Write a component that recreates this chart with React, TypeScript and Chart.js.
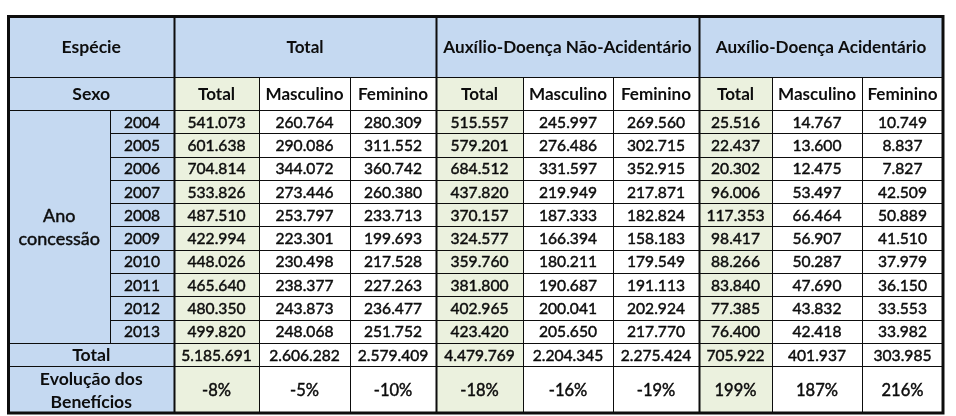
import { useEffect, useRef } from "react";
import { Chart, registerables } from "chart.js";

Chart.register(...registerables);

// ---------- data ----------
const SPECIES = ["Total", "Auxílio-Doença Não-Acidentário", "Auxílio-Doença Acidentário"];
const SEXES = ["Total", "Masculino", "Feminino"];
const YEARS = ["2004", "2005", "2006", "2007", "2008", "2009", "2010", "2011", "2012", "2013"];

const totalTotal = [541073, 601638, 704814, 533826, 487510, 422994, 448026, 465640, 480350, 499820];
const totalMasc = [260764, 290086, 344072, 273446, 253797, 223301, 230498, 238377, 243873, 248068];
const totalFem = [280309, 311552, 360742, 260380, 233713, 199693, 217528, 227263, 236477, 251752];
const naoAcTotal = [515557, 579201, 684512, 437820, 370157, 324577, 359760, 381800, 402965, 423420];
const naoAcMasc = [245997, 276486, 331597, 219949, 187333, 166394, 180211, 190687, 200041, 205650];
const naoAcFem = [269560, 302715, 352915, 217871, 182824, 158183, 179549, 191113, 202924, 217770];
const acTotal = [25516, 22437, 20302, 96006, 117353, 98417, 88266, 83840, 77385, 76400];
const acMasc = [14767, 13600, 12475, 53497, 66464, 56907, 50287, 47690, 43832, 42418];
const acFem = [10749, 8837, 7827, 42509, 50889, 41510, 37979, 36150, 33553, 33982];

const TOTALS = [5185691, 2606282, 2579409, 4479769, 2204345, 2275424, 705922, 401937, 303985];
const EVOLUTION = [-8, -5, -10, -18, -16, -19, 199, 187, 216];

const LABEL_ESPECIE = "Espécie";
const LABEL_SEXO = "Sexo";
const LABEL_ANO = ["Ano", "concessão"];
const LABEL_TOTAL = "Total";
const LABEL_EVOL = ["Evolução dos", "Benefícios"];

// ---------- layout (scale units) ----------
const COL_W = [101.5, 64, 85, 91, 86, 87, 90, 86, 73, 90, 81];
const ROW_H = [60.5, 33, 23.3, 23.3, 23.3, 23.3, 23.3, 23.3, 23.3, 23.3, 23.3, 23.3, 23, 47];

const BLUE = "#c5d9f1";
const GREEN = "#ebf1de";
const WHITE = "#ffffff";
const INK = "#0d0d0d";
const FONT_FAMILY = "Lato, 'Open Sans', sans-serif";
const NUM_SIZE = 15.6;
const LABEL_SIZE = 18;
const PCT_SIZE = 16.5;
const BOLD_SIZE = 17.1;
const BOLD_LABEL_SIZE = 17.6;

const cum = (a: number[]) => {
  const out = [0];
  a.forEach((v) => out.push(out[out.length - 1] + v));
  return out;
};
const COL_E = cum(COL_W);
const ROW_E = cum(ROW_H);

const fmt = (n: number) => {
  const s = Math.abs(n).toString();
  let r = "";
  for (let i = 0; i < s.length; i++) {
    if (i > 0 && (s.length - i) % 3 === 0) r += ".";
    r += s[i];
  }
  return (n < 0 ? "-" : "") + r;
};

type Cell = { c0: number; c1: number; r0: number; r1: number; fill: string; lines: string[]; bold: boolean; size: number };

function buildCells(): Cell[] {
  const cells: Cell[] = [];
  const series = [totalTotal, totalMasc, totalFem, naoAcTotal, naoAcMasc, naoAcFem, acTotal, acMasc, acFem];
  const B = BOLD_SIZE;
  cells.push({ c0: 0, c1: 2, r0: 0, r1: 1, fill: BLUE, lines: [LABEL_ESPECIE], bold: true, size: BOLD_LABEL_SIZE });
  SPECIES.forEach((s, g) =>
    cells.push({ c0: 2 + 3 * g, c1: 5 + 3 * g, r0: 0, r1: 1, fill: BLUE, lines: [s], bold: true, size: B })
  );
  cells.push({ c0: 0, c1: 2, r0: 1, r1: 2, fill: BLUE, lines: [LABEL_SEXO], bold: true, size: BOLD_LABEL_SIZE });
  series.forEach((_, j) =>
    cells.push({ c0: 2 + j, c1: 3 + j, r0: 1, r1: 2, fill: j % 3 === 0 ? GREEN : WHITE, lines: [SEXES[j % 3]], bold: true, size: B })
  );
  cells.push({ c0: 0, c1: 1, r0: 2, r1: 2 + YEARS.length, fill: BLUE, lines: LABEL_ANO, bold: false, size: LABEL_SIZE });
  YEARS.forEach((y, i) => {
    cells.push({ c0: 1, c1: 2, r0: 2 + i, r1: 3 + i, fill: BLUE, lines: [y], bold: false, size: NUM_SIZE });
    series.forEach((s, j) =>
      cells.push({
        c0: 2 + j, c1: 3 + j, r0: 2 + i, r1: 3 + i,
        fill: j % 3 === 0 ? GREEN : WHITE, lines: [fmt(s[i])], bold: false, size: NUM_SIZE,
      })
    );
  });
  const rt = 2 + YEARS.length;
  cells.push({ c0: 0, c1: 2, r0: rt, r1: rt + 1, fill: BLUE, lines: [LABEL_TOTAL], bold: true, size: BOLD_LABEL_SIZE });
  TOTALS.forEach((v, j) =>
    cells.push({ c0: 2 + j, c1: 3 + j, r0: rt, r1: rt + 1, fill: j % 3 === 0 ? GREEN : WHITE, lines: [fmt(v)], bold: false, size: NUM_SIZE })
  );
  cells.push({ c0: 0, c1: 2, r0: rt + 1, r1: rt + 2, fill: BLUE, lines: LABEL_EVOL, bold: true, size: BOLD_LABEL_SIZE });
  EVOLUTION.forEach((v, j) =>
    cells.push({ c0: 2 + j, c1: 3 + j, r0: rt + 1, r1: rt + 2, fill: j % 3 === 0 ? GREEN : WHITE, lines: [v + "%"], bold: false, size: PCT_SIZE })
  );
  return cells;
}

const tablePlugin = {
  id: "tablePlugin",
  afterDraw(chart: any) {
    const ctx: CanvasRenderingContext2D = chart.ctx;
    const xs = chart.scales.x;
    const ys = chart.scales.y;
    const X = (c: number) => Math.round(xs.getPixelForValue(COL_E[c]));
    const Y = (r: number) => Math.round(ys.getPixelForValue(ROW_E[r]));
    const cells = buildCells();
    ctx.save();
    // fills
    cells.forEach((c) => {
      ctx.fillStyle = c.fill;
      ctx.fillRect(X(c.c0), Y(c.r0), X(c.c1) - X(c.c0), Y(c.r1) - Y(c.r0));
    });
    // thin grid lines
    ctx.strokeStyle = INK;
    ctx.lineWidth = 1;
    cells.forEach((c) => {
      ctx.strokeRect(X(c.c0) + 0.5, Y(c.r0) + 0.5, X(c.c1) - X(c.c0), Y(c.r1) - Y(c.r0));
    });
    // thick group separators
    ctx.fillStyle = INK;
    const top = Y(0);
    const bot = Y(ROW_H.length);
    [2, 5, 8].forEach((c) => ctx.fillRect(X(c) - 0.5, top, 2, bot - top));
    // outer border
    ctx.lineWidth = 3;
    ctx.strokeRect(
      xs.getPixelForValue(0),
      ys.getPixelForValue(0),
      xs.getPixelForValue(COL_E[COL_W.length]) - xs.getPixelForValue(0),
      ys.getPixelForValue(ROW_E[ROW_H.length]) - ys.getPixelForValue(0)
    );
    // text
    ctx.fillStyle = INK;
    ctx.strokeStyle = INK;
    ctx.lineWidth = 0.45;
    ctx.textAlign = "center";
    ctx.textBaseline = "middle";
    cells.forEach((c) => {
      ctx.font = (c.bold ? "bold " : "") + c.size + "px " + FONT_FAMILY;
      const cx = (xs.getPixelForValue(COL_E[c.c0]) + xs.getPixelForValue(COL_E[c.c1])) / 2;
      const cy = (ys.getPixelForValue(ROW_E[c.r0]) + ys.getPixelForValue(ROW_E[c.r1])) / 2;
      const lh = 23;
      c.lines.forEach((t, k) => {
        const dy = (k - (c.lines.length - 1) / 2) * lh;
        ctx.fillText(t, cx, cy + dy + 1);
        if (!c.bold) ctx.strokeText(t, cx, cy + dy + 1);
      });
    });
    ctx.restore();
  },
};

export default function App() {
  const ref = useRef<HTMLCanvasElement>(null);
  useEffect(() => {
    if (!ref.current) return;
    const chart = new Chart(ref.current, {
      type: "scatter",
      data: { datasets: [] },
      options: {
        responsive: false,
        animation: false,
        devicePixelRatio: 1,
        layout: { padding: { left: 8.5, top: 16.5, right: 13, bottom: 3 } },
        plugins: { legend: { display: false }, tooltip: { enabled: false } },
        scales: {
          x: { type: "linear", min: 0, max: COL_E[COL_W.length], display: false },
          y: { type: "linear", min: 0, max: ROW_E[ROW_H.length], reverse: true, display: false },
        },
      },
      plugins: [tablePlugin],
    });
    return () => chart.destroy();
  }, []);
  return (
    <div style={{ position: "fixed", left: 0, top: 0, width: 956, height: 416, background: "#fff" }}>
      <canvas ref={ref} width={956} height={416} style={{ display: "block" }} />
    </div>
  );
}
